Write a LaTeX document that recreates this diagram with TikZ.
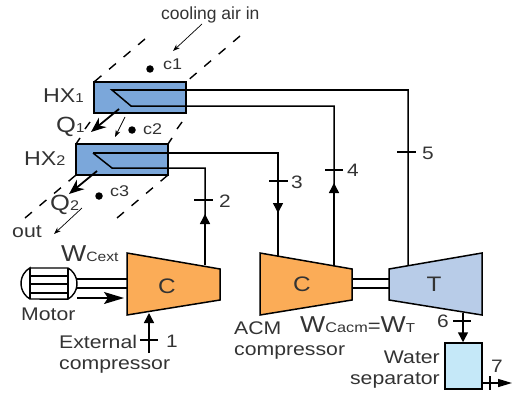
\documentclass[tikz,border=0pt]{standalone}
\usepackage{fontspec}
\setmainfont[FakeStretch=1.16]{Liberation Sans}
\newfontfamily\plainf{Liberation Sans}
\usetikzlibrary{arrows.meta}
\definecolor{hxblue}{HTML}{7BA7DA}
\definecolor{orng}{HTML}{FBAC57}
\definecolor{turb}{HTML}{B8CCE8}
\definecolor{sep}{HTML}{C5E8F8}
\definecolor{txt}{HTML}{333333}
\newcommand{\fs}[1]{\fontsize{#1}{#1}\selectfont}
\tikzset{
  pipe/.style={line width=1.5pt,black},
  flow/.style={pipe,-{Triangle[length=10pt,width=10pt]}},
  tick/.style={line width=1.3pt},
  thin arrow/.style={line width=0.7pt,-{Stealth[length=7pt,width=5pt]}},
  heat arrow/.style={line width=1.8pt,-{Stealth[length=15pt,width=12pt]}},
  duct/.style={line width=1.4pt,dash pattern=on 9pt off 10pt},
  solidduct/.style={line width=1.4pt},
  equip/.style={draw,line width=1.5pt,line join=miter},
  lbl/.style={inner sep=0pt,text=txt,font=\fs{18.3}},
  big/.style={inner sep=0pt,text=txt,font=\fs{22}},
  small/.style={inner sep=0pt,text=txt,font=\fs{15.5}},
  digit/.style={inner sep=0pt,text=txt,font=\fs{18}},
  dotm/.style={circle,fill=black,inner sep=0pt,minimum size=7.5pt}
}
\begin{document}
\begin{tikzpicture}[x=1pt,y=-1pt]
\useasboundingbox (0,0) rectangle (518,393);
% ducts
\coordinate (d1) at (145,39); \coordinate (d2) at (240,36);
\coordinate (d3) at (25,218); \coordinate (d4) at (117,218);
\draw[duct] (d1) -- (94,82);
\draw[duct] (d2) -- (186,82);
\draw[solidduct] (76,144) -- (80,138) (85,129) -- (90,122);
\draw[solidduct] (168,144) -- (172,138) (177,129) -- (182,122);
\draw[duct] (d3) -- (76,175);
\draw[duct] (d4) -- (168,175);
% heat exchangers
\node[equip,fill=hxblue,minimum width=92pt,minimum height=31pt,inner sep=0pt] (hx1) at (140,97.5) {};
\node[equip,fill=hxblue,minimum width=92pt,minimum height=31pt,inner sep=0pt] (hx2) at (122,159.5) {};
% machines
\draw[equip,fill=orng] (127,253) coordinate (a1) -- (220,269) coordinate (a2) -- (220,300) coordinate (a3) -- (127,315) coordinate (a4) -- cycle;
\draw[equip,fill=orng] (260,253) coordinate (b1) -- (352,269) coordinate (b2) -- (352,300) coordinate (b3) -- (260,315) coordinate (b4) -- cycle;
\draw[equip,fill=turb] (389,269) coordinate (t1) -- (482,253) coordinate (t2) -- (482,315) coordinate (t3) -- (389,300) coordinate (t4) -- cycle;
\node[equip,fill=sep,minimum width=37pt,minimum height=46pt,inner sep=0pt] (ws) at (463.5,366) {};
\node[big,font=\fs{21}] (cc1) at (167,286) {C};
\node[big,font=\fs{21}] (cc2) at (302,284) {C};
\node[big,font=\fs{21}] (tt) at (434,284) {T};
% motor
\draw[line width=1.4pt] (30,268) -- (68,268) arc[start angle=60,end angle=-60,radius=18pt] -- (30,299) arc[start angle=240,end angle=120,radius=18pt] -- cycle;
\draw[line width=1.4pt] (30,268) -- (30,299) (68,268) -- (68,299) (30,276) -- (68,276) (30,284) -- (68,284) (30,293) -- (68,293);
\coordinate (mot) at (76,279); \coordinate (mot2) at (76,288);
\draw[pipe] (mot) -- (mot-|a1);
\draw[pipe] (mot2) -- (mot2-|a1);
\coordinate (wa) at (77,298); \coordinate (wb) at (124,298);
\draw[line width=1.5pt,-{Stealth[length=20pt,width=12pt,inset=4pt]}] (wa) -- (wb);
% shaft
\draw[pipe] (352,279) -- (389,279);
\draw[pipe] (352,288) -- (389,288);
% lines from the exchangers
\draw[pipe] (408,265) -- (408,90) -- (112,90) -- (131,106) -- (334,106) -- (334,190);
\coordinate (p4) at (334,266);
\draw[flow] (p4) -- (334,183);
\draw[pipe] (93,153) -- (278,153) -- (278,256);
\draw[flow] (278,190) -- (278,213);
\draw[pipe] (93,153) -- (112,168) -- (205,168) -- (205,220);
\coordinate (p2) at (205,265);
\draw[flow] (p2) -- (205,214);
% inlet 1
\coordinate (s1) at (149,353);
\draw[flow] (s1) -- (149,313);
\draw[tick] (140,340) -- (158,340);
% ticks
\draw[tick] (194,200) -- (213,200);
\draw[tick] (269,181) -- (288,181);
\draw[tick] (325,170) -- (343,170);
\draw[tick] (397,152) -- (416,152);
\draw[tick] (453,321) -- (471,321);
% 6
\coordinate (s6) at (463,313);
\draw[flow] (s6) -- (s6|-ws.north);
% 7
\coordinate (o7) at (512,383);
\draw[line width=1.4pt,-{Triangle[length=14pt,width=8pt]}] (482,383) -- (o7);
\draw[tick] (490,376) -- (490,390);
% small arrows
\coordinate (ci1) at (202,24); \coordinate (ci2) at (173,51);
\draw[thin arrow] (ci1) -- (ci2);
\draw[thin arrow] (125,117) -- (115,137);
\draw[thin arrow] (82,208) -- (54,234);
\draw[heat arrow] (119,109) -- (91,132);
\draw[heat arrow] (97,171) -- (69,194);
% dots
\node[dotm] (c1d) at (150,69) {};
\node[dotm] (c2d) at (132,130) {};
\node[dotm] (c3d) at (99,196) {};
% labels
\node[lbl,anchor=west,font=\plainf\fs{17.5}] (cool) at (161,15) {cooling air in};
\node[small,anchor=west] (c1l) at (163,64) {c1};
\node[small,anchor=west] (c2l) at (143,129) {c2};
\node[small,anchor=west] (c3l) at (110,191) {c3};
\node[big,anchor=west,font=\fs{20}] (hx1l) at (43,96) {HX\fs{13}1};
\node[big,anchor=west,font=\fs{20}] (hx2l) at (24,159) {HX\fs{14}2};
\node[big,anchor=west] (q1l) at (56,127) {Q\fs{13}1};
\node[big,anchor=west] (q2l) at (50,205) {Q\fs{14}2};
\node[lbl,anchor=west] (outl) at (12,232) {out};
\node[big,anchor=west,font=\fs{23}] (wc) at (61,254) {W\fs{13.5}Cext};
\node[lbl,anchor=west] (motl) at (21,314) {Motor};
\node[lbl,align=left,anchor=north west] (ext) at (59,335) {External\\[2.5pt]compressor};
\node[lbl,align=left,anchor=north west] (acm) at (234,322) {ACM\\[2.5pt]compressor};
\node[big,anchor=west,font=\fs{23}] (wacm) at (300,325) {W\fs{14}Cacm\fs{19}=\fs{23}W\fs{13}T};
\node[lbl,align=right,anchor=north east] (wsl) at (440,351) {Water\\[2.5pt]separator};
\node[digit,anchor=west] (n1) at (166,341) {1};
\node[digit,anchor=west] (n2) at (219,201) {2};
\node[digit,anchor=west] (n3) at (291,182) {3};
\node[digit,anchor=west] (n4) at (347,170) {4};
\node[digit,anchor=west] (n5) at (422,153) {5};
\node[digit,anchor=west] (n6) at (437,321) {6};
\node[digit,anchor=west] (n7) at (491,366) {7};
\end{tikzpicture}
\end{document}
